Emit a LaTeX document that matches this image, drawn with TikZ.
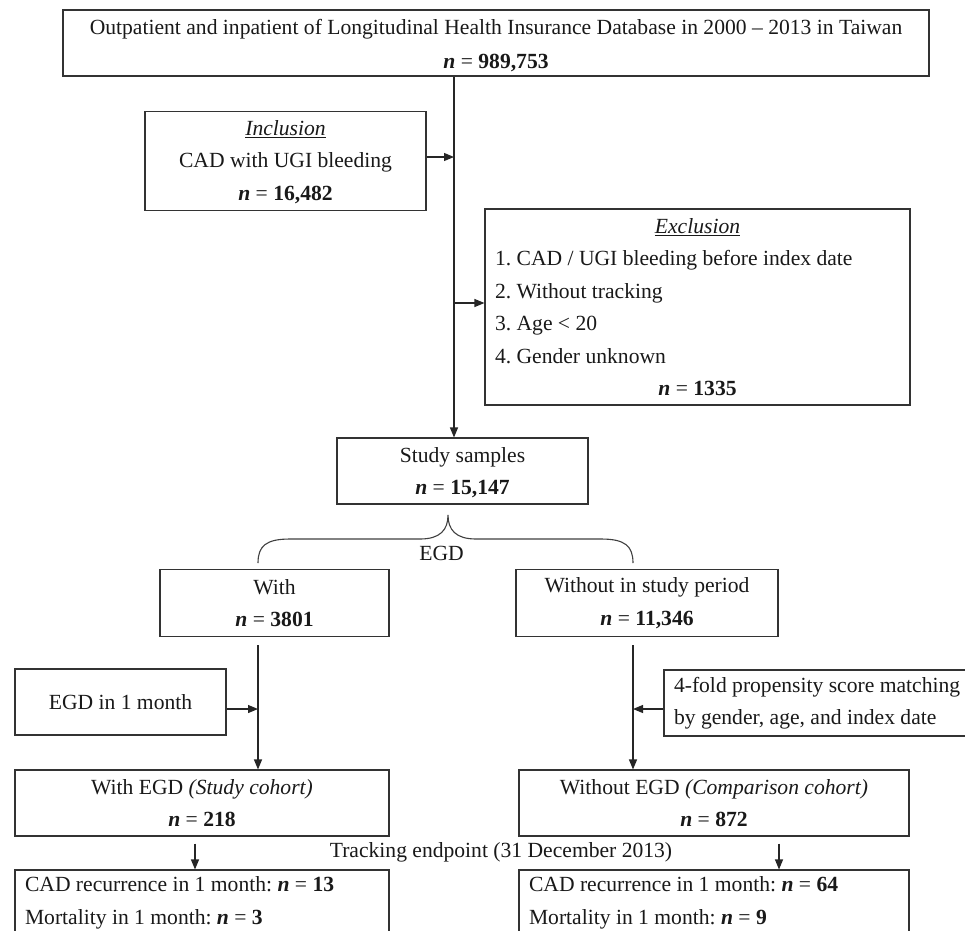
\documentclass[tikz,border=0pt]{standalone}
\usepackage{fontspec}
\setmainfont{Liberation Serif}
\usetikzlibrary{arrows.meta,calc}
\newcommand\nvar{\textbf{\textit{n}}}
\begin{document}
\begin{tikzpicture}[x=1pt,y=-1pt,
  every node/.style={font=\fontsize{21.6}{32.5}\selectfont\frenchspacing, text=black!90},
  box/.style={draw=black!80, line width=1.1pt, inner sep=0pt, minimum height=66pt, align=center},
  lbox/.style={draw=black!80, line width=1.1pt, inner xsep=10pt, inner ysep=0pt, minimum height=66pt, align=flush left},
  conn/.style={draw=black!85, line width=1.1pt, -{Triangle[length=10pt,width=8pt]}},
  plain/.style={draw=black!75, line width=1.1pt},
]
\fill[white] (0,0) rectangle (965,930);
\useasboundingbox (0,0) rectangle (965,930);
\clip (0,0) rectangle (965,930);

\coordinate (s0) at (454,0);
\coordinate (s1) at (258,0);
\coordinate (s2) at (633,0);
\coordinate (s3) at (195,0);
\coordinate (s4) at (779,0);

\node[box, minimum width=866pt, font=\fontsize{21.6}{34}\selectfont] (top) at (496,43)
  {\rule{0pt}{21pt}Outpatient and inpatient of Longitudinal Health Insurance Database in 2000 -- 2013 in Taiwan\\ \nvar{} = \textbf{989,753}};

\node[box, minimum width=281pt, minimum height=99pt] (incl) at (285.5,161)
  {\rule{0pt}{17pt}\underline{\textit{Inclusion}}\\ CAD with UGI bleeding\\ \nvar{} = \textbf{16,482}};

\node[lbox, text width=405pt, minimum height=196pt] (excl) at (697.5,307)
  {\makebox[\linewidth][c]{\underline{\textit{Exclusion}}}\\
   1. CAD / UGI bleeding before index date\\
   2. Without tracking\\
   3. Age < 20\\
   4. Gender unknown\\
   \makebox[\linewidth][c]{\nvar{} = \textbf{1335}}};

\node[box, minimum width=251pt] (study) at (462.5,471)
  {\rule{0pt}{18pt}Study samples\\ \nvar{} = \textbf{15,147}};

\node (egdl) at (441.5,553) {EGD};

\node[box, minimum width=229pt, minimum height=67pt] (with) at (274.5,603)
  {With\\ \nvar{} = \textbf{3801}};
\node[box, minimum width=262pt, minimum height=67pt] (without) at (647,603)
  {Without in study period\\ \nvar{} = \textbf{11,346}};

\node[box, minimum width=211pt] (egd1) at (120.5,702) {EGD in 1 month};
\node[lbox, text width=300pt] (prop) at (824,703)
  {4-fold propensity score matching\\ by gender, age, and index date};

\node[box, minimum width=374pt] (withegd) at (202,803)
  {With EGD \textit{(Study cohort)}\\ \nvar{} = \textbf{218}};
\node[box, minimum width=390pt] (withoutegd) at (714,803)
  {Without EGD \textit{(Comparison cohort)}\\ \nvar{} = \textbf{872}};

\node (track) at (501,852) {Tracking endpoint (31 December 2013)};

\node[lbox, text width=354pt] (res1) at (202,903)
  {CAD recurrence in 1 month: \nvar{} = \textbf{13}\\ Mortality in 1 month: \nvar{} = \textbf{3}};
\node[lbox, text width=370pt] (res2) at (714,903)
  {CAD recurrence in 1 month: \nvar{} = \textbf{64}\\ Mortality in 1 month: \nvar{} = \textbf{9}};

% connectors
\draw[conn] (top.south -| s0) -- (study.north -| s0);
\draw[conn] ($(incl.east)+(0,-4)$) -- ($(incl.east -| s0)+(0,-4)$);
\draw[conn] ($(excl.west -| s0)+(0,-4)$) -- ($(excl.west)+(0,-4)$);

\draw[plain] (258,563) .. controls (258,546) and (266,539) .. (290,539)
  -- (420,539) .. controls (440,539) and (448,530) .. (448,515)
  .. controls (448,530) and (456,539) .. (476,539)
  -- (601,539) .. controls (625,539) and (633,546) .. (633,563);

\draw[conn] ($(with.south -| s1)+(0,8)$) -- (withegd.north -| s1);
\draw[conn] ($(egd1.east)+(0,7)$) -- ($(egd1.east -| s1)+(0,7)$);
\draw[conn] ($(without.south -| s2)+(0,8)$) -- (withoutegd.north -| s2);
\draw[conn] ($(prop.west)+(0,6)$) -- ($(prop.west -| s2)+(0,6)$);

\draw[conn] ($(withegd.south -| s3)+(0,7)$) -- (res1.north -| s3);
\draw[conn] ($(withoutegd.south -| s4)+(0,7)$) -- (res2.north -| s4);
\end{tikzpicture}
\end{document}
